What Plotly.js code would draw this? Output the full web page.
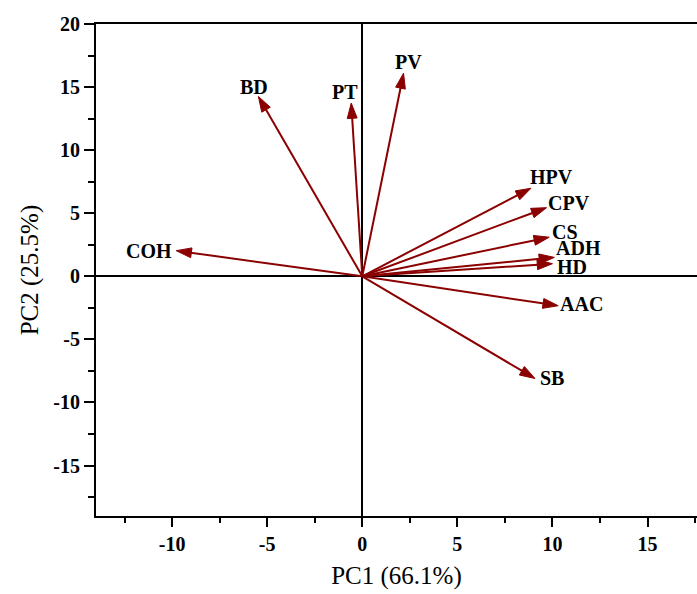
<!DOCTYPE html>
<html><head><meta charset="utf-8">
<script src="https://cdn.plot.ly/plotly-3.0.1.min.js"></script>
<style>html,body{margin:0;padding:0;background:#fff}</style>
</head><body><div id="chart" style="width:697px;height:594px"></div>
<script>
// Loadings (PC1, PC2)
const variables = ['PV', 'PT', 'BD', 'COH', 'HPV', 'CPV', 'CS', 'ADH', 'HD', 'AAC', 'SB'];
const pc1 = [2.17, -0.58, -5.46, -9.78, 8.87, 9.69, 9.83, 10.1, 10.0, 10.3, 9.08];
const pc2 = [16.1, 13.73, 14.25, 2.03, 6.98, 5.44, 3.1, 1.5, 1.0, -2.33, -8.1];
const xTickVals = [-10, -5, 0, 5, 10, 15];
const yTickVals = [-15, -10, -5, 0, 5, 10, 15, 20];

// label offsets in pixels (style, not data)
const labelShift = {
  PV: [5, 11], PT: [-6, 11], BD: [-4, 10], COH: [-27, 0], HPV: [21, 11],
  CPV: [22, 5], CS: [16, 5], ADH: [24, 9], HD: [20, -3], AAC: [23, 2], SB: [17, 0]
};

const arrowColor = '#8b0000';
const serif = 'Liberation Serif';

const traces = variables.map((v, i) => ({
  type: 'scatter',
  mode: 'lines+markers',
  x: [0, pc1[i]],
  y: [0, pc2[i]],
  line: {color: arrowColor, width: 2},
  marker: {symbol: 'arrow', angleref: 'previous', size: [0, 16], color: arrowColor,
           opacity: 1, line: {width: 1, color: arrowColor}},
  hoverinfo: 'skip',
  showlegend: false,
  cliponaxis: false
}));

const annotations = variables.map((v, i) => ({
  x: pc1[i], y: pc2[i], xref: 'x', yref: 'y',
  text: '<b>' + v + '</b>', showarrow: false,
  xanchor: 'center', yanchor: 'middle',
  xshift: labelShift[v][0], yshift: labelShift[v][1],
  font: {family: serif, size: 20, color: '#000'}
}));

const axisCommon = {
  showgrid: false,
  zeroline: true, zerolinecolor: '#000', zerolinewidth: 2,
  showline: true, linecolor: '#000', linewidth: 2,
  ticks: 'outside', tickcolor: '#000', tickwidth: 2,
  tickmode: 'array',
  tickfont: {family: serif, size: 20, color: '#000', weight: 'bold'},
  fixedrange: true
};

const layout = {
  width: 697, height: 594,
  margin: {l: 96, r: 0, t: 24, b: 78},
  paper_bgcolor: '#fff', plot_bgcolor: '#fff',
  showlegend: false,
  xaxis: Object.assign({}, axisCommon, {
    range: [-14, 17.6],
    tickvals: xTickVals, ticktext: xTickVals.map(String),
    ticklen: 9, mirror: true,
    minor: {dtick: 2.5, tick0: 0, ticks: 'outside', ticklen: 5, tickwidth: 2, tickcolor: '#000'},
    title: {text: 'PC1 (66.1%)', font: {family: serif, size: 25, color: '#000'}, standoff: 12}
  }),
  yaxis: Object.assign({}, axisCommon, {
    range: [-19, 20],
    tickvals: yTickVals, ticktext: yTickVals.map(String),
    ticklen: 10,
    minor: {dtick: 2.5, tick0: 0, ticks: 'outside', ticklen: 6, tickwidth: 2, tickcolor: '#000'},
    title: {text: 'PC2 (25.5%)', font: {family: serif, size: 25, color: '#000'}, standoff: 8}
  }),
  annotations: annotations
};

Plotly.newPlot('chart', traces, layout, {displayModeBar: false, staticPlot: true});
</script>
</body></html>
